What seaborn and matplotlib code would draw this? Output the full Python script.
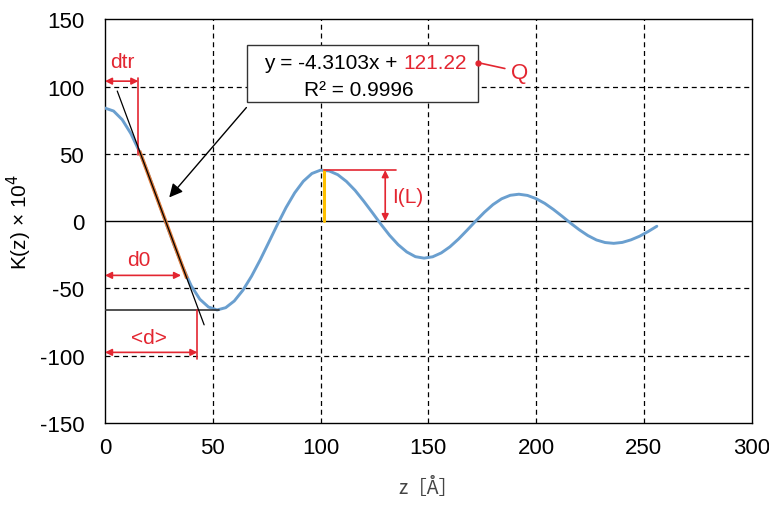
import numpy as np
import pandas as pd
import matplotlib
matplotlib.use("Agg")
import matplotlib.pyplot as plt
import seaborn as sns

# ---- data ----
z_vals = [0, 4, 8, 12, 16, 20, 24, 28, 32, 36, 40, 44, 48, 52,
          56, 60, 64, 68, 72, 76, 80, 84, 88, 92, 96, 100,
          104, 108, 112, 116, 120, 124, 128, 132, 136, 140, 144, 148,
          152, 156, 160, 164, 168, 172, 176, 180, 184, 188, 192,
          196, 200, 204, 208, 212, 216, 220, 224, 228, 232, 236,
          240, 244, 248, 252, 256]
k_vals = [84.0, 81.8, 75.4, 65.1, 51.6, 35.6, 18.0, -0.1, -17.6, -33.8, -48.0, -58.0, -63.8, -66.0,
          -64.3, -59.3, -51.3, -40.9, -28.8, -15.7, -2.5, 10.1, 21.0, 29.6, 35.4, 37.9,
          37.3, 34.5, 29.5, 22.9, 14.9, 6.4, -2.3, -10.5, -17.5, -22.9, -26.4, -27.5,
          -26.5, -23.6, -19.1, -13.3, -6.7, 0.1, 6.6, 12.3, 16.6, 19.2, 20.0,
          19.1, 16.7, 13.2, 8.7, 3.7, -1.5, -6.4, -10.7, -14.0, -15.9, -16.5,
          -15.8, -13.9, -11.2, -7.7, -3.8]
slope = -4.3103
intercept = 121.22
r2 = 0.9996
fit_x = [5.7, 46.0]
fit_data_x = [16.0, 38.0]
x_ticks = [0, 50, 100, 150, 200, 250, 300]
y_ticks = [-150, -100, -50, 0, 50, 100, 150]
d_tr = 15.5
d_0 = 35.3
d_mean = 42.9
k_min = -66.0
peak_x = 101.5
peak_y = 37.9

df = pd.DataFrame({"z": z_vals, "K": k_vals})

sns.set_style("white")
plt.rcParams['font.family'] = ['Liberation Sans', 'DejaVu Sans']
plt.rcParams['axes.unicode_minus'] = False

fig = plt.figure(figsize=(7.69, 5.06), dpi=100)
ax = fig.add_axes([0.1365, 0.162, 0.841, 0.798])

RED = "#E32631"
BLUE = "#6A9FCF"

ax.set_xlim(0, 300)
ax.set_ylim(-150, 150)
ax.set_xticks(x_ticks)
ax.set_yticks(y_ticks)
ax.tick_params(axis='both', length=0, labelsize=16, colors='#000000')
ax.tick_params(axis='y', pad=15)
ax.tick_params(axis='x', pad=10)

for v in x_ticks[1:-1]:
    ax.axvline(v, color='black', lw=0.9, ls=(0, (4, 3)), zorder=1)
for v in y_ticks[1:-1]:
    if v == 0:
        ax.axhline(v, color='black', lw=1.0, zorder=1)
    else:
        ax.axhline(v, color='black', lw=0.9, ls=(0, (4, 3)), zorder=1)
for s in ax.spines.values():
    s.set_color('black')
    s.set_linewidth(1.0)

# main curve
sns.lineplot(data=df, x="z", y="K", ax=ax, color=BLUE, lw=2.1, zorder=3)

# fitted points region + fit line
fdx = np.array(fit_data_x)
ax.plot(fdx, slope * fdx + intercept, color="#E07B39", lw=2.6, zorder=4, solid_capstyle='butt')
fx = np.array(fit_x)
ax.plot(fx, slope * fx + intercept, color='black', lw=0.9, zorder=5)

# horizontal line at the minimum
ax.plot([0, 53], [k_min, k_min], color='#333333', lw=1.2, zorder=4)

# yellow peak line
ax.plot([peak_x, peak_x], [0, peak_y], color='#FFC000', lw=2.2, zorder=4)

arrow_kw = dict(arrowstyle='<|-|>', color=RED, lw=1.2, mutation_scale=10, shrinkA=0, shrinkB=0)

# dtr
ax.plot([d_tr, d_tr], [106.7, 49.5], color=RED, lw=1.2, zorder=4)
ax.annotate('', xy=(0, 104), xytext=(d_tr, 104), arrowprops=arrow_kw, zorder=6)
ax.text(7.9, 118.6, 'dtr', color=RED, fontsize=15, ha='center', va='center')

# d0
ax.annotate('', xy=(0, -40.3), xytext=(d_0, -40.3), arrowprops=arrow_kw, zorder=6)
ax.text(15.5, -28.4, 'd0', color=RED, fontsize=15, ha='center', va='center')

# <d>
ax.plot([d_mean, d_mean], [k_min, -102.6], color=RED, lw=1.2, zorder=4)
ax.annotate('', xy=(0, -97.5), xytext=(d_mean, -97.5), arrowprops=arrow_kw, zorder=6)
ax.text(20.6, -86.6, '<d>', color=RED, fontsize=15, ha='center', va='center')

# I(L)
ax.plot([peak_x, 135], [peak_y, peak_y], color=RED, lw=1.2, zorder=4)
ax.annotate('', xy=(130, peak_y), xytext=(130, 0), arrowprops=arrow_kw, zorder=6)
ax.text(140.6, 18.6, 'I(L)', color=RED, fontsize=15, ha='center', va='center')

# equation box
ax.add_patch(plt.Rectangle((65.7, 88.3), 172.9 - 65.7, 130.7 - 88.3,
                           facecolor='white', edgecolor='#333333', lw=1.0, zorder=7))
ax.text(138.3, 117.6, f'y = {slope:.4f}x + ', color='black', fontsize=15,
        ha='right', va='center', zorder=8)
ax.text(138.3, 117.6, f'{intercept:.2f}', color=RED, fontsize=15,
        ha='left', va='center', zorder=8)
ax.text(117.9, 97.8, f'R² = {r2:.4f}', color='black', fontsize=15,
        ha='center', va='center', zorder=8)

# Q pointer
ax.plot([172.9, 185.5], [117.8, 113.4], color=RED, lw=1.2, zorder=8)
ax.plot([172.9], [117.8], marker='o', ms=3.5, color=RED, zorder=9)
ax.text(188.2, 110.5, 'Q', color=RED, fontsize=16, ha='left', va='center')

# black arrow from box to fit line
ax.annotate('', xy=(29.8, 17.6), xytext=(65.6, 84.4),
            arrowprops=dict(arrowstyle='-|>', color='black', lw=1.0, mutation_scale=20,
                            shrinkA=0, shrinkB=0), zorder=8)

ax.set_xlabel('z［Å］', fontsize=14, color='#444444', labelpad=14,
              family=['Noto Sans CJK JP', 'DejaVu Sans'])
ax.set_ylabel('K(z) × 10$^4$', fontsize=15, color='black', labelpad=4)

fig.savefig('out.png', dpi=100, facecolor='white')
